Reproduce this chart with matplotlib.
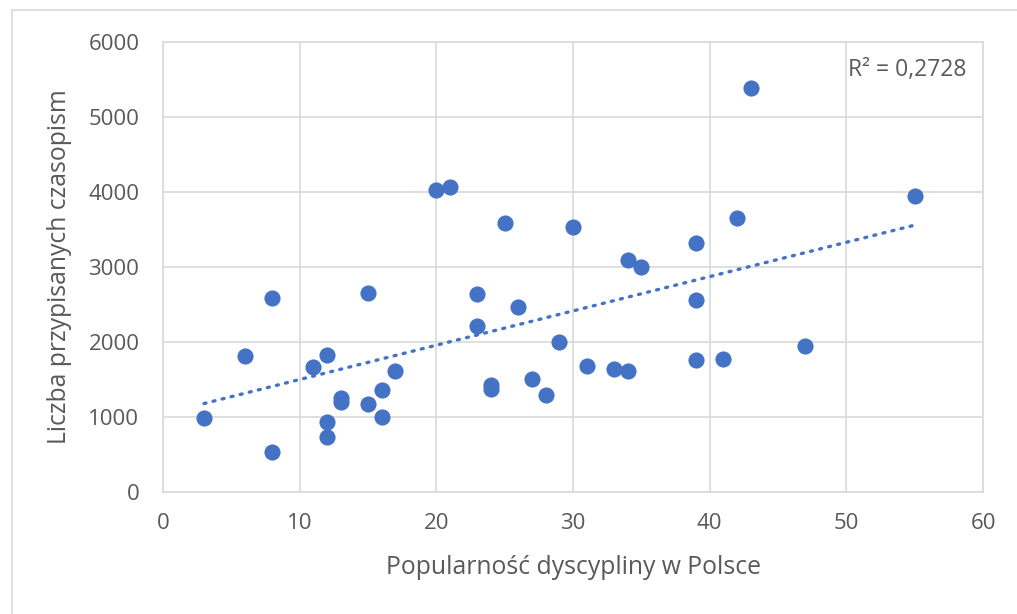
import numpy as np
import matplotlib
matplotlib.use('Agg')
import matplotlib.pyplot as plt
from matplotlib.patches import Rectangle

# dane
popularnosc = [3, 6, 8, 8, 11, 12, 12, 12, 13, 13, 15, 15, 16, 16, 17, 20, 21,
               23, 23, 24, 24, 25, 26, 27, 28, 29, 30, 31, 33, 34, 34, 35,
               39, 39, 39, 41, 42, 43, 47, 55]
czasopisma = [990, 1820, 2590, 540, 1670, 1830, 940, 740, 1200, 1250, 2660, 1170,
              1360, 1000, 1610, 4030, 4070, 2640, 2220, 1430, 1380, 3590, 2470,
              1510, 1290, 2000, 3540, 1680, 1640, 3100, 1610, 3000,
              3320, 2560, 1760, 1780, 3650, 5390, 1950, 3950]
x_ticks = [0, 10, 20, 30, 40, 50, 60]
y_ticks = [0, 1000, 2000, 3000, 4000, 5000, 6000]
r2_label = 'R² = 0,2728'

plt.rcParams['font.family'] = ['Open Sans', 'DejaVu Sans']
tc = '#595959'
blue = '#4472C4'

fig = plt.figure(figsize=(10.17, 6.14), dpi=100)
fig.patches.append(Rectangle((12/1017, -0.1), 1.2, 1.1 - 10/614, transform=fig.transFigure,
                             fill=False, edgecolor='#d9d9d9', linewidth=1.2))
ax = fig.add_axes([163/1017, 1-492/614, (983-163)/1017, (492-42)/614])

ax.scatter(popularnosc, czasopisma, s=135, color=blue, zorder=3, linewidths=0)

# linia trendu
a, b = np.polyfit(popularnosc, czasopisma, 1)
xs = np.array([min(popularnosc), max(popularnosc)])
ax.plot(xs, a*xs + b, color=blue, linewidth=2.4, linestyle=(0, (0.6, 2.2)),
        dash_capstyle='round', zorder=2)

ax.text(50.1, 5630, r2_label, fontsize=16.5, color=tc, va='center', ha='left')

ax.set_xlim(0, 60)
ax.set_ylim(0, 6000)
ax.set_xticks(x_ticks)
ax.set_yticks(y_ticks)
ax.grid(True, color='#d9d9d9', linewidth=1.2)
ax.set_axisbelow(True)
for s in ax.spines.values():
    s.set_color('#d9d9d9')
    s.set_linewidth(1.2)
ax.tick_params(length=0, labelsize=16, labelcolor=tc)
ax.tick_params(axis='y', pad=17)
ax.tick_params(axis='x', pad=15)

ax.set_xlabel('Popularność dyscypliny w Polsce', fontsize=17.8, color=tc, labelpad=15)
ax.set_ylabel('Liczba przypisanych czasopism', fontsize=17.8, color=tc, labelpad=12)

fig.savefig('out.png', dpi=100)
